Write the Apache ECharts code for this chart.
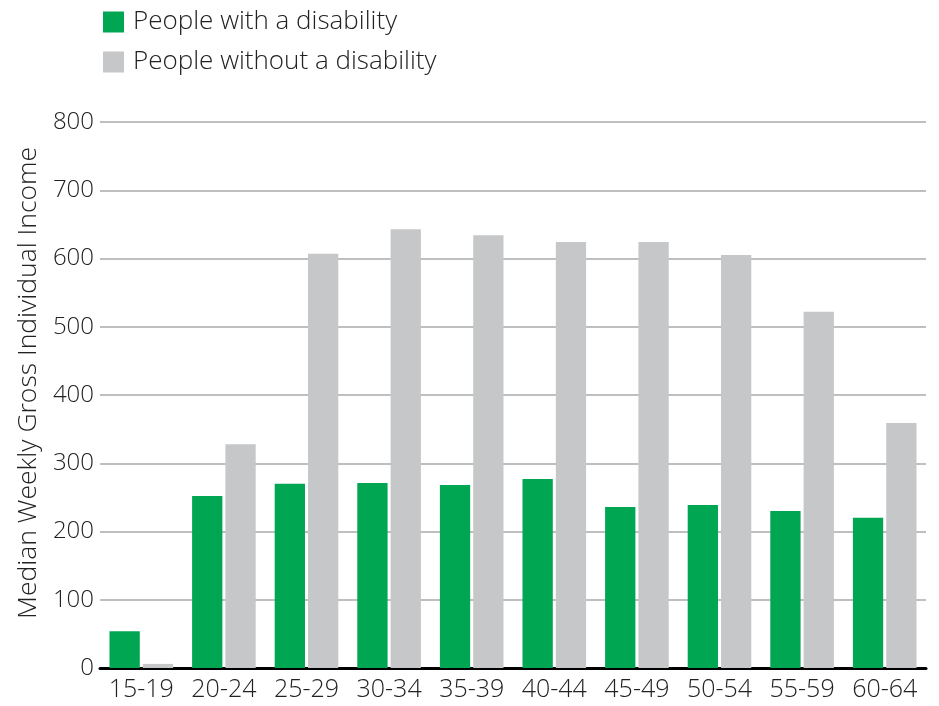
<!DOCTYPE html>
<html><head><meta charset="utf-8">
<script src="https://cdn.jsdelivr.net/npm/echarts@6/dist/echarts.min.js"></script>
<style>html,body{margin:0;padding:0;background:#fff}#c{width:939px;height:706px}</style>
</head><body><div id="c"></div>
<script>
const categories = ['15-19','20-24','25-29','30-34','35-39','40-44','45-49','50-54','55-59','60-64'];
const withDisability = [54, 252, 270, 271, 268, 277, 236, 239, 230, 220];
const withoutDisability = [6, 328, 607, 643, 634, 624, 624, 605, 522, 359];
const yTicks = [0,100,200,300,400,500,600,700,800];
const seriesNames = ['People with a disability','People without a disability'];

const chart = echarts.init(document.getElementById('c'), null, {renderer:'canvas'});
const font = '"Open Sans", Liberation Sans, Arial, sans-serif';
chart.setOption({
  animation:false,
  legend:{
    orient:'vertical', left:98, top:4, itemWidth:21, itemHeight:21, itemGap:14,
    icon:'rect',
    textStyle:{fontFamily:font, fontWeight:300, fontSize:26, color:'#222', padding:[0,0,0,4]},
    data:seriesNames
  },
  grid:{left:100, right:13, top:122, bottom:38, containLabel:false, outerBoundsMode:'none'},
  xAxis:{
    type:'category', data:categories,
    axisLine:{lineStyle:{color:'#000', width:3}},
    axisTick:{show:false},
    axisLabel:{fontFamily:font, fontWeight:300, fontSize:25, color:'#222', margin:9, interval:0, hideOverlap:false}
  },
  yAxis:{
    type:'value', min:0, max:800, interval:100,
    name:'Median Weekly Gross Individual Income',
    nameLocation:'middle', nameGap:54,
    nameTextStyle:{fontFamily:font, fontWeight:300, fontSize:26.5, color:'#222', padding:[0,0,0,24]},
    axisLine:{show:false}, axisTick:{show:false},
    splitLine:{lineStyle:{color:'#aaa', width:1.5}},
    axisLabel:{fontFamily:font, fontWeight:300, fontSize:24, color:'#222', margin:6,
      formatter:v=> yTicks.includes(v)? String(v):''}
  },
  series:[
    {name:seriesNames[0], type:'bar', data:withDisability, itemStyle:{color:'#00a651'}, barGap:'10%', barCategoryGap:'23%'},
    {name:seriesNames[1], type:'bar', data:withoutDisability, itemStyle:{color:'#c6c7c9'}, barGap:'10%', barCategoryGap:'23%'}
  ]
});
</script></body></html>
